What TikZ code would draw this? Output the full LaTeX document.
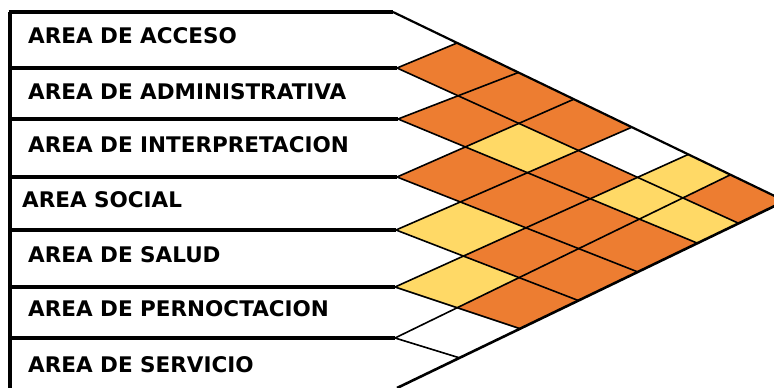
\documentclass[tikz,border=0pt]{standalone}
\usepackage{fontspec}
\setmainfont{DejaVu Sans}
\definecolor{cellO}{HTML}{ED7D31}
\definecolor{cellY}{HTML}{FFD966}
\tikzset{
  rowlabel/.style={anchor=base west,inner sep=0pt,font=\fontsize{21.5}{24}\selectfont\bfseries},
  rowline/.style={line width=3.3pt},
  gridline/.style={line width=1.6pt,black},
  edgeline/.style={line width=2.2pt,black},
}
\begin{document}
\begin{tikzpicture}[x=1pt,y=-1pt]
\useasboundingbox (0,0) rectangle (774,388);
\clip (0,0) rectangle (774,388);
% left end points of row boundaries
\coordinate (b0) at (393,12);
\coordinate (b1) at (397,68);
\coordinate (b2) at (398,119);
\coordinate (b3) at (397,177);
\coordinate (b4) at (396,230);
\coordinate (b5) at (395,287);
\coordinate (b6) at (395,338);
\coordinate (b7) at (397,388);
% apex
\coordinate (A) at (785,201);
% points on top edge
\coordinate (T1) at (457,43);
\coordinate (T2) at (517,73);
\coordinate (T3) at (572,100);
\coordinate (T4) at (630,128);
\coordinate (T5) at (687,155);
\coordinate (T6) at (730,175);
\coordinate (T7) at (785,201);
% points on bottom edge
\coordinate (B0) at (785,201);
\coordinate (B1) at (738,223);
\coordinate (B2) at (697,243);
\coordinate (B3) at (638,272);
\coordinate (B4) at (577,300);
\coordinate (B5) at (518,328);
\coordinate (B6) at (460,358);
% grid intersections
\foreach \k in {0,...,6}{
  \pgfmathtruncatemacro\kk{\k+1}
  \foreach \m in {\kk,...,7}{
    \pgfcoordinate{p\k\m}{\pgfpointintersectionoflines
      {\pgfpointanchor{b\k}{center}}{\pgfpointanchor{B\k}{center}}
      {\pgfpointanchor{b\m}{center}}{\pgfpointanchor{T\m}{center}}}
  }
}
\foreach \k in {1,...,6}{\coordinate (p\k\k) at (b\k);}
% cells
\fill[cellO] (p11) -- (p01) -- (p02) -- (p12) -- cycle;
\fill[cellO] (p22) -- (p12) -- (p13) -- (p23) -- cycle;
\fill[cellO] (p33) -- (p23) -- (p24) -- (p34) -- cycle;
\fill[cellY] (p44) -- (p34) -- (p35) -- (p45) -- cycle;
\fill[cellY] (p55) -- (p45) -- (p46) -- (p56) -- cycle;
\fill[cellO] (p12) -- (p02) -- (p03) -- (p13) -- cycle;
\fill[cellY] (p23) -- (p13) -- (p14) -- (p24) -- cycle;
\fill[cellO] (p34) -- (p24) -- (p25) -- (p35) -- cycle;
\fill[cellO] (p45) -- (p35) -- (p36) -- (p46) -- cycle;
\fill[cellO] (p56) -- (p46) -- (p47) -- (p57) -- cycle;
\fill[cellO] (p13) -- (p03) -- (p04) -- (p14) -- cycle;
\fill[cellO] (p24) -- (p14) -- (p15) -- (p25) -- cycle;
\fill[cellO] (p35) -- (p25) -- (p26) -- (p36) -- cycle;
\fill[cellO] (p46) -- (p36) -- (p37) -- (p47) -- cycle;
\fill[cellY] (p25) -- (p15) -- (p16) -- (p26) -- cycle;
\fill[cellO] (p36) -- (p26) -- (p27) -- (p37) -- cycle;
\fill[cellY] (p15) -- (p05) -- (p06) -- (p16) -- cycle;
\fill[cellY] (p26) -- (p16) -- (p17) -- (p27) -- cycle;
\fill[cellO] (p16) -- (p06) -- (p07) -- (p17) -- cycle;
% grid lines
\foreach \k in {1,...,6}{
  \draw[gridline] (b\k) -- (p\k7);
  \draw[gridline] (b\k) -- (p0\k);
}
\draw[edgeline] (b0) -- (A);
\draw[edgeline,line width=2.6pt] (b7) -- (A);
% row boxes
\draw[rowline] (10,12) -- (10,395);
\draw[rowline] (8.5,12) -- (b0);
\draw[rowline] (10,68) -- (b1);
\draw[rowline] (10,119) -- (b2);
\draw[rowline] (10,177) -- (b3);
\draw[rowline] (10,230) -- (b4);
\draw[rowline] (10,287) -- (b5);
\draw[rowline] (10,338) -- (b6);
% labels
\node[rowlabel] (r1) at (28,43) {AREA DE ACCESO};
\node[rowlabel] (r2) at (28,99) {AREA DE ADMINISTRATIVA};
\node[rowlabel] (r3) at (28,152) {AREA DE INTERPRETACION};
\node[rowlabel] (r4) at (22,207) {AREA SOCIAL};
\node[rowlabel] (r5) at (28,262) {AREA DE SALUD};
\node[rowlabel] (r6) at (28,316) {AREA DE PERNOCTACION};
\node[rowlabel] (r7) at (28,372) {AREA DE SERVICIO};
\end{tikzpicture}
\end{document}
